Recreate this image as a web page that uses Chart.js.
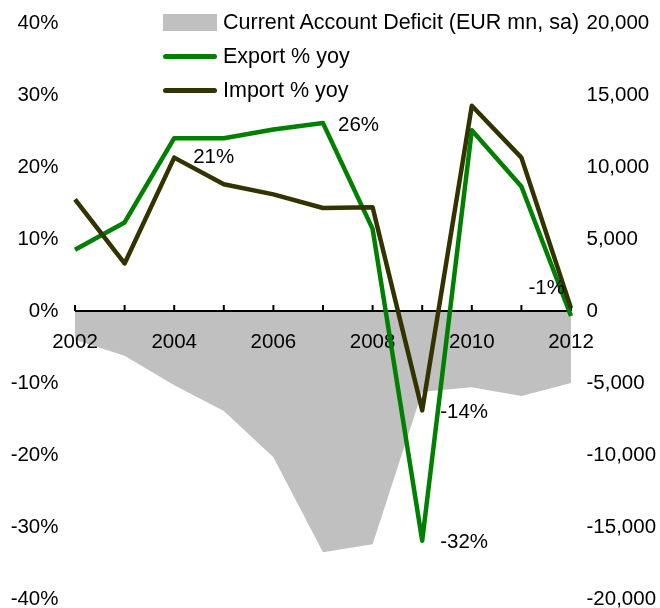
<!DOCTYPE html>
<html>
<head>
<meta charset="utf-8">
<script src="https://cdn.jsdelivr.net/npm/chart.js@4.4.1/dist/chart.umd.min.js"></script>
<style>
    body { margin: 0; background: #fff; font-family: "Liberation Sans", Arial, sans-serif; }
    #wrap { position: relative; width: 660px; height: 608px; }
    #custom-legend { position: absolute; left: 163px; top: 5px; list-style: none; margin: 0; padding: 0; font-size: 21.5px; color: #000; }
    #custom-legend li { height: 34px; display: flex; align-items: center; white-space: nowrap; }
</style>
</head>
<body>
<div id="wrap">
    <canvas id="tradeChart" width="660" height="608"></canvas>
    <ul id="custom-legend"></ul>
</div>
<script>
// data
const years = ['2002', '2003', '2004', '2005', '2006', '2007', '2008', '2009', '2010', '2011', '2012'];
const currentAccount = [-2000, -3100, -5150, -6950, -10150, -16750, -16200, -5600, -5300, -5900, -5000];
const exportYoy = [8.5, 12.3, 24.0, 24.0, 25.2, 26.1, 11.4, -31.9, 25.1, 17.3, -0.7];
const importYoy = [15.5, 6.6, 21.3, 17.6, 16.2, 14.3, 14.4, -13.8, 28.5, 21.3, 0.4];
const pctTicks = [-40, -30, -20, -10, 0, 10, 20, 30, 40];
const eurTicks = [-20000, -15000, -10000, -5000, 0, 5000, 10000, 15000, 20000];
const seriesNames = ['Current Account Deficit (EUR mn, sa)', 'Export % yoy', 'Import % yoy'];

const FONT = '"Liberation Sans", Arial, sans-serif';
const TICK_FONT = '20.5px ' + FONT;

// zero axis line, upward ticks and year labels, drawn right after the grey area
const zeroAxis = {
    id: 'zeroAxis',
    afterDatasetDraw(chart, args) {
        if (args.index !== 0) return;
        const ctx = chart.ctx;
        const xs = chart.scales.x;
        const y0 = chart.scales.y.getPixelForValue(0);
        ctx.save();
        ctx.strokeStyle = '#000';
        ctx.lineWidth = 2;
        ctx.beginPath();
        ctx.moveTo(xs.left, y0);
        ctx.lineTo(xs.right, y0);
        for (let i = 0; i < years.length; i++) {
            const px = xs.getPixelForTick(i);
            ctx.moveTo(px, y0);
            ctx.lineTo(px, y0 - 6);
        }
        ctx.stroke();
        ctx.font = TICK_FONT;
        ctx.fillStyle = '#000';
        ctx.textAlign = 'center';
        ctx.textBaseline = 'middle';
        for (let i = 0; i < years.length; i += 2) {
            ctx.fillText(years[i], xs.getPixelForTick(i), y0 + 31);
        }
        ctx.restore();
    }
};

// left and right value labels (drawn here so they don't push the plot area)
const sideLabels = {
    id: 'sideLabels',
    afterDraw(chart) {
        const ctx = chart.ctx;
        const area = chart.chartArea;
        ctx.save();
        ctx.font = TICK_FONT;
        ctx.fillStyle = '#000';
        ctx.textBaseline = 'middle';
        ctx.textAlign = 'right';
        pctTicks.forEach(v => ctx.fillText(v + '%', area.left - 16.5, chart.scales.y.getPixelForValue(v)));
        ctx.textAlign = 'left';
        eurTicks.forEach(v => ctx.fillText(v.toLocaleString('en-US'), area.right + 15.5, chart.scales.y2.getPixelForValue(v)));
        ctx.restore();
    }
};

// value labels next to a few points
const pointLabels = {
    id: 'pointLabels',
    afterDatasetsDraw(chart, args, opts) {
        const ctx = chart.ctx;
        ctx.save();
        ctx.font = TICK_FONT;
        ctx.fillStyle = '#000';
        ctx.textBaseline = 'middle';
        opts.items.forEach(function (it) {
            const pt = chart.getDatasetMeta(it.dataset).data[it.index];
            const val = chart.data.datasets[it.dataset].data[it.index];
            ctx.textAlign = it.align;
            ctx.fillText(Math.round(val) + '%', pt.x + it.dx, pt.y + it.dy);
        });
        ctx.restore();
    }
};

const ctx = document.getElementById('tradeChart').getContext('2d');

new Chart(ctx, {
    type: 'line',
    data: {
        labels: years,
        datasets: [{
            label: seriesNames[0],
            data: currentAccount,
            yAxisID: 'y2',
            backgroundColor: '#c0c0c0',
            borderWidth: 0,
            fill: 'origin',
            pointRadius: 0,
            order: 3
        }, {
            label: seriesNames[1],
            data: exportYoy,
            yAxisID: 'y',
            borderColor: '#008000',
            borderWidth: 4.5,
            borderJoinStyle: 'round',
            fill: false,
            pointRadius: 0,
            order: 2
        }, {
            label: seriesNames[2],
            data: importYoy,
            yAxisID: 'y',
            borderColor: '#333300',
            borderWidth: 4.5,
            borderJoinStyle: 'round',
            fill: false,
            pointRadius: 0,
            order: 1
        }]
    },
    options: {
        responsive: false,
        animation: false,
        layout: { padding: { top: 23, bottom: 9, left: 0, right: 0 } },
        plugins: {
            legend: { display: false }, // custom legend below
            tooltip: { enabled: false },
            pointLabels: {
                items: [
                    { dataset: 1, index: 5, dx: 15, dy: 2, align: 'left' },
                    { dataset: 2, index: 2, dx: 19, dy: 0, align: 'left' },
                    { dataset: 1, index: 10, dx: -6, dy: -28, align: 'right' },
                    { dataset: 2, index: 7, dx: 18, dy: 2, align: 'left' },
                    { dataset: 1, index: 7, dx: 18, dy: 2, align: 'left' }
                ]
            }
        },
        scales: {
            x: {
                position: { y: 0 },
                offset: false,
                grid: { display: false },
                border: { display: false },
                ticks: { display: false },
                afterFit: function (scale) { scale.height = 0; }
            },
            y: {
                position: 'left',
                min: -40,
                max: 40,
                grid: { display: false },
                border: { display: false },
                ticks: { display: false },
                afterFit: function (scale) { scale.width = 75; }
            },
            y2: {
                position: 'right',
                min: -20000,
                max: 20000,
                grid: { display: false },
                border: { display: false },
                ticks: { display: false },
                afterFit: function (scale) { scale.width = 89; }
            }
        }
    },
    plugins: [zeroAxis, sideLabels, pointLabels]
});

// Generate custom legend
const legendContainer = document.getElementById('custom-legend');
const swatches = [
    'display:inline-block;width:54px;height:17px;background:#c0c0c0;margin-right:6px;',
    'display:inline-block;width:54px;height:5px;border-radius:3px;background:#008000;margin-right:6px;',
    'display:inline-block;width:54px;height:5px;border-radius:3px;background:#333300;margin-right:6px;'
];
seriesNames.forEach((label, index) => {
    const li = document.createElement('li');
    li.innerHTML = `<span style="${swatches[index]}"></span>${label}`;
    legendContainer.appendChild(li);
});
</script>
</body>
</html>
